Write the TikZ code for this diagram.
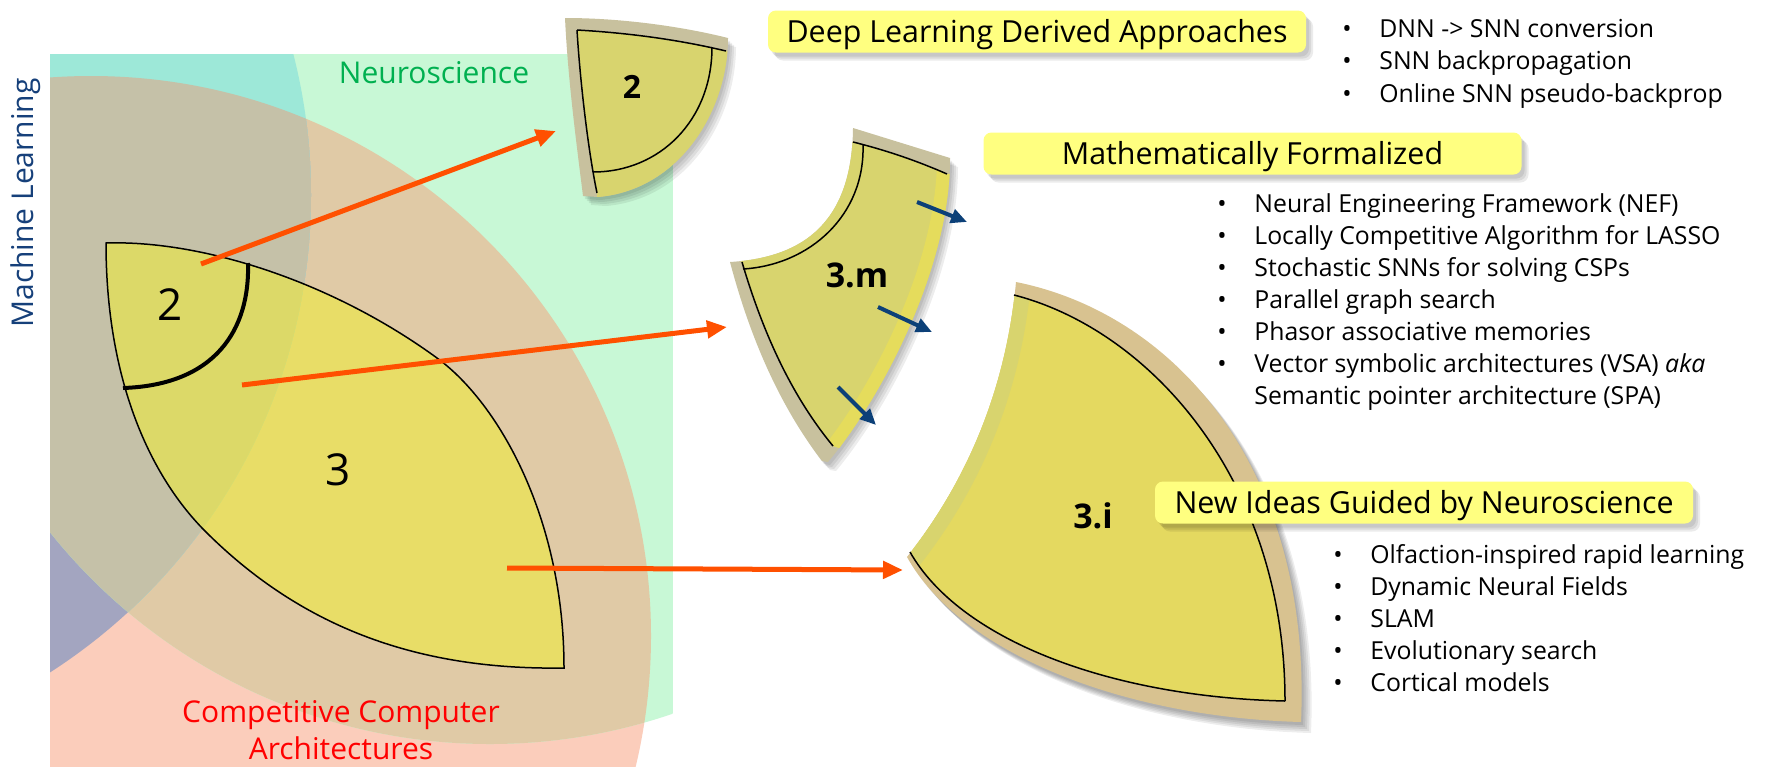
\documentclass[tikz,border=0pt]{standalone}
\usepackage{fontspec}
\setmainfont{Open Sans}
\usetikzlibrary{arrows.meta,shadows}
\definecolor{cgreen}{RGB}{200,248,214}
\definecolor{cteal}{RGB}{157,232,216}
\definecolor{ctan}{RGB}{224,202,166}
\definecolor{cgraybrown}{RGB}{197,193,168}
\definecolor{cbluegray}{RGB}{163,165,192}
\definecolor{csalmon}{RGB}{251,205,187}
\definecolor{cwedge}{RGB}{239,238,53}
\definecolor{corange}{RGB}{255,80,0}
\definecolor{cnavy}{RGB}{12,64,120}
\definecolor{cmlblue}{RGB}{22,64,122}
\definecolor{cneuro}{RGB}{0,176,80}
\definecolor{cboxy}{RGB}{255,255,128}
\definecolor{cband}{RGB}{200,193,158}
\definecolor{cbandtan}{RGB}{216,194,144}
\definecolor{cpieceA}{RGB}{216,212,110}
\definecolor{cpieceB}{RGB}{228,217,96}
\definecolor{cstrip}{RGB}{229,220,92}
\newcommand{\wedgepath}{(106,243) .. controls (200,240) and (330,280) .. (437,358) .. controls (500,404) and (564,520) .. (564,668) .. controls (430,670) and (310,635) .. (207,533) .. controls (150,477) and (106,380) .. (106,243) -- cycle}
\newcommand{\ptwoouter}{(565,18) .. controls (620,18) and (680,26) .. (728,38) .. controls (728,110) and (680,190) .. (598,197) -- (583,196) .. controls (576,140) and (568,80) .. (565,18) -- cycle}
\newcommand{\pmouter}{(730,262) .. controls (795,258) and (852,230) .. (853,128) -- (950,158) .. controls (950,270) and (880,400) .. (828,462) -- (822,461) .. controls (783,410) and (752,345) .. (730,262) -- cycle}
\newcommand{\piouter}{(1016,282) .. controls (1175,314) and (1312,468) .. (1301,722) .. controls (1120,717) and (960,652) .. (907,557) .. controls (960,490) and (1005,400) .. (1016,282) -- cycle}
\newcommand{\bl}[1]{\makebox[18.5pt][l]{\textbullet}#1}
\begin{document}
\begin{tikzpicture}[x=0.5pt,y=-0.5pt,
  bgtext/.style={inner sep=0pt, font=\fontsize{15}{18}\selectfont},
  titlebox/.style={fill=cboxy, rounded corners=4pt, minimum width=269pt, minimum height=21pt,
    inner sep=0pt, text height=10.9pt, text depth=0pt, font=\fontsize{15.2}{18}\selectfont,
    drop shadow={shadow xshift=1.5pt, shadow yshift=-2pt, fill=black, opacity=0.08},
    drop shadow={shadow xshift=2.5pt, shadow yshift=-3pt, fill=black, opacity=0.08},
    drop shadow={shadow xshift=3.5pt, shadow yshift=-4pt, fill=black, opacity=0.08}},
  bulletline/.style={anchor=base west, inner sep=0pt, font=\fontsize{12.4}{16}\selectfont},
  wedgedigit/.style={anchor=base, inner sep=0pt, font=\fontsize{22}{26}\selectfont},
  plabel/.style={anchor=base, inner sep=0pt, font=\bfseries\fontsize{17}{20}\selectfont},
  orangearrow/.style={draw=corange, line width=2.5pt, -{Triangle[length=10pt,width=8.5pt]}},
  bluearrow/.style={draw=cnavy, line width=2pt, -{Triangle[length=8pt,width=7pt]}},
  pshadow/.style={fill=black, opacity=0.07},
  blackline/.style={draw=black, line width=0.75pt},
]
\useasboundingbox (0,0) rectangle (1765,766);
\fill[white] (0,0) rectangle (1765,766);
% ---------- background Venn regions
\begin{scope}
  \clip (50,54) rectangle (1765,766);
  \fill[csalmon] (91,636) circle[radius=560];
  \begin{scope}
    \clip (50,54) rectangle (673,766);
    \clip (490,181) circle[radius=563];
    \fill[cgreen] (50,54) rectangle (673,766);
    \fill[ctan] (91,636) circle[radius=560];
  \end{scope}
  \begin{scope}
    \clip (-256,195) circle[radius=567];
    \fill[cbluegray] (91,636) circle[radius=560];
    \begin{scope}
      \clip (50,54) rectangle (673,766);
      \clip (490,181) circle[radius=563];
      \fill[cteal] (50,54) rectangle (673,766);
      \fill[cgraybrown] (91,636) circle[radius=560];
    \end{scope}
  \end{scope}
\end{scope}
\node[bgtext, text=cneuro, anchor=base] (neuro) at (434,83) {Neuroscience};
\node[bgtext, text=cmlblue, rotate=90, anchor=base] (ml) at (33,203) {Machine Learning};
\node[bgtext, text=red, anchor=base] (cca1) at (341,722) {Competitive Computer};
\node[bgtext, text=red, anchor=base] (cca2) at (341,759) {Architectures};
% ---------- left wedge
\fill[cwedge, fill opacity=0.55] \wedgepath;
\draw[line width=0.75pt] \wedgepath;
\draw[line width=2pt] (248,263) .. controls (250,330) and (215,385) .. (123,388);
\node[wedgedigit] (w2) at (170,320) {2};
\node[wedgedigit] (w3) at (338,485) {3};
% ---------- piece 2
\foreach \s in {3,5,7,9}{\fill[pshadow, shift={(\s-1,\s)}] \ptwoouter;}
\begin{scope}
  \clip \ptwoouter;
  \fill[cband] (500,0) rectangle (800,260);
  \fill[cpieceA] (577,30) .. controls (630,33) and (680,40) .. (726,51) -- (780,60) -- (780,260) -- (597,260) -- (597,193) .. controls (588,150) and (580,80) .. (577,30) -- cycle;
\end{scope}
\draw[blackline] (577,30) .. controls (630,33) and (680,40) .. (726,51);
\draw[blackline] (577,30) .. controls (580,80) and (588,150) .. (597,193);
\draw[blackline] (712,47) .. controls (712,120) and (660,172) .. (593,172);
\node[plabel, font=\bfseries\fontsize{16}{19}\selectfont] (p2lab) at (632,98) {2};
% ---------- piece 3.m
\foreach \s in {3,5,7,9}{\fill[pshadow, shift={(\s-1,\s)}] \pmouter;}
\begin{scope}
  \clip \pmouter;
  \fill[cband] (700,100) rectangle (1000,500);
  \begin{scope}
    \clip (742,262) .. controls (765,340) and (795,400) .. (833,446) -- (1000,500) -- (1000,174) -- (947,174) .. controls (915,160) and (885,150) .. (853,142) -- (830,120) -- (700,240) -- cycle;
    \fill[cpieceA] (700,100) rectangle (1000,500);
    \draw[cstrip, line width=13pt] (950,158) .. controls (950,270) and (880,400) .. (828,462);
  \end{scope}
\end{scope}
\draw[blackline] (853,142) .. controls (885,150) and (915,160) .. (947,174);
\draw[blackline] (863,145) .. controls (865,215) and (810,265) .. (743,269);
\draw[blackline] (742,262) .. controls (765,340) and (795,400) .. (833,446);
\node[plabel] (pmlab) at (857,287) {3.m};
% ---------- piece 3.i
\foreach \s in {3,5,7,9,11}{\fill[pshadow, shift={(\s-1,\s)}] \piouter;}
\begin{scope}
  \clip \piouter;
  \fill[cbandtan] (880,260) rectangle (1330,740);
  \begin{scope}
    \clip (1014,295) .. controls (1150,330) and (1285,480) .. (1285,701) .. controls (1110,697) and (960,640) .. (910,552) -- (880,540) -- (990,260) -- cycle;
    \fill[cpieceB] (880,260) rectangle (1330,740);
    \draw[cpieceA, line width=15pt] (907,557) .. controls (960,490) and (1005,400) .. (1016,282);
  \end{scope}
\end{scope}
\draw[blackline] (1014,295) .. controls (1150,330) and (1285,480) .. (1285,701);
\draw[blackline] (1285,701) .. controls (1110,697) and (960,640) .. (910,552);
\node[plabel] (pilab) at (1093,528) {3.i};
% ---------- arrows
\coordinate (o1s) at (201,264); \coordinate (o1e) at (556,131);
\coordinate (o2s) at (242,385); \coordinate (o2e) at (727,327);
\coordinate (o3s) at (507,568); \coordinate (o3e) at (903,570);
\draw[orangearrow] (o1s) -- (o1e);
\draw[orangearrow] (o2s) -- (o2e);
\draw[orangearrow] (o3s) -- (o3e);
\coordinate (b1s) at (917,202); \coordinate (b1e) at (967,222);
\coordinate (b2s) at (878,307); \coordinate (b2e) at (932,332);
\coordinate (b3s) at (838,387); \coordinate (b3e) at (876,425);
\draw[bluearrow] (b1s) -- (b1e);
\draw[bluearrow] (b2s) -- (b2e);
\draw[bluearrow] (b3s) -- (b3e);
% ---------- title boxes
\node[titlebox] (dl) at (1037,31.5) {Deep Learning Derived Approaches};
\node[titlebox] (mf) at (1252.5,153.5) {Mathematically Formalized};
\node[titlebox] (ni) at (1424,502.5) {New Ideas Guided by Neuroscience};
% ---------- bullet lists
\node[bulletline] (dl1) at (1342,37) {\bl{DNN -> SNN conversion}};
\node[bulletline] (dl2) at (1342,69.5) {\bl{SNN backpropagation}};
\node[bulletline] (dl3) at (1342,102) {\bl{Online SNN pseudo-backprop}};
\node[bulletline] (mf1) at (1217,212) {\bl{Neural Engineering Framework (NEF)}};
\node[bulletline] (mf2) at (1217,244) {\bl{Locally Competitive Algorithm for LASSO}};
\node[bulletline] (mf3) at (1217,276) {\bl{Stochastic SNNs for solving CSPs}};
\node[bulletline] (mf4) at (1217,308) {\bl{Parallel graph search}};
\node[bulletline] (mf5) at (1217,340) {\bl{Phasor associative memories}};
\node[bulletline] (mf6) at (1217,372) {\bl{Vector symbolic architectures (VSA) \textit{aka}}};
\node[bulletline] (mf7) at (1254,404) {Semantic pointer architecture (SPA)};
\node[bulletline] (ni1) at (1333,563) {\bl{Olfaction-inspired rapid learning}};
\node[bulletline] (ni2) at (1333,595) {\bl{Dynamic Neural Fields}};
\node[bulletline] (ni3) at (1333,627) {\bl{SLAM}};
\node[bulletline] (ni4) at (1333,659) {\bl{Evolutionary search}};
\node[bulletline] (ni5) at (1333,691) {\bl{Cortical models}};
\end{tikzpicture}
\end{document}
